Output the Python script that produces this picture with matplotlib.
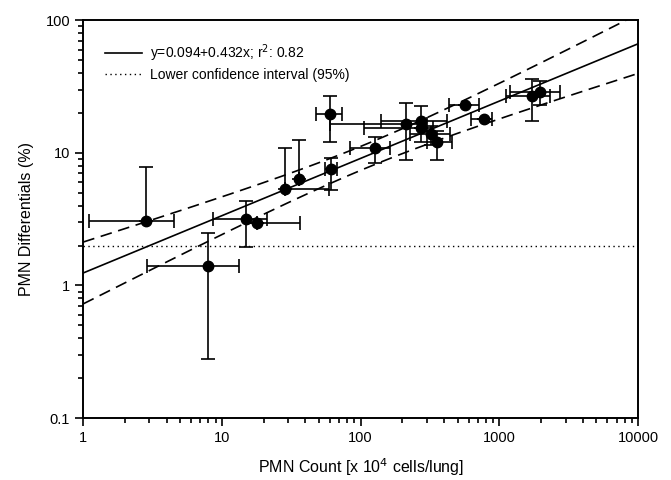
import numpy as np
import matplotlib.pyplot as plt
from matplotlib.ticker import FuncFormatter, NullFormatter, LogLocator

plt.rcParams['font.family'] = ['Liberation Sans', 'DejaVu Sans']

# PMN count [x 10^4 cells/lung] and PMN differentials (%)
pmn_count = [2.83, 8.0, 14.9, 17.9, 28.6, 35.7, 61, 59.7, 126, 212, 272, 272, 323, 355, 568, 769, 1718, 1950]
pmn_diff = [3.07, 1.40, 3.18, 2.95, 5.30, 6.3, 7.5, 19.6, 10.9, 16.5, 17.3, 15.5, 13.8, 12.1, 22.9, 17.9, 26.9, 28.8]
# error bar ends (a value equal to the point means no bar on that side)
count_lo = [1.10, 2.88, 8.56, 17.9, 28.6, 35.7, 55, 47.6, 84, 60, 141, 106, 228, 300, 432, 625, 1122, 1198]
count_hi = [4.55, 13.2, 21.3, 36.7, 59, 35.7, 68, 73.3, 163, 300, 420, 330, 443, 455, 708, 884, 2328, 2748]
diff_lo = [3.07, 0.28, 1.96, 2.95, 5.30, 6.3, 5.2, 12.0, 8.4, 8.8, 12.1, 15.5, 11.5, 8.8, 22.9, 17.9, 17.4, 22.9]
diff_hi = [7.85, 2.47, 4.35, 2.95, 10.8, 12.5, 9.1, 26.7, 13.2, 23.8, 22.5, 15.5, 16.0, 14.5, 22.9, 17.9, 35.9, 34.7]

# log-log regression and 95% confidence band
intercept = 0.094
slope = 0.432
band_min = 0.0081
band_curv = 0.011
band_center = 2.05
lower_ci = 2

x = np.array(pmn_count)
y = np.array(pmn_diff)
xerr = [x - np.array(count_lo), np.array(count_hi) - x]
yerr = [y - np.array(diff_lo), np.array(diff_hi) - y]

fig = plt.figure(figsize=(6.71, 4.80), dpi=100)
ax = fig.add_axes([0.124, 0.129, 0.827, 0.829])

lx = np.linspace(0, 4, 300)
fit = intercept + slope * lx
half = np.sqrt(band_min + band_curv * (lx - band_center) ** 2)
ax.plot(10 ** lx, 10 ** fit, color='black', lw=1.2, label='y=0.094+0.432x; r$^2$: 0.82')
ax.plot(10 ** lx, 10 ** (fit + half), color='black', lw=1.2, ls=(0, (7, 4)))
ax.plot(10 ** lx, 10 ** (fit - half), color='black', lw=1.2, ls=(0, (7, 4)))
ax.axhline(lower_ci, color='black', lw=1.0, ls=(0, (1, 2.5)), label='Lower confidence interval (95%)')

ax.errorbar(x, y, xerr=xerr, yerr=yerr, fmt='o', color='black', ms=7.5,
            ecolor='black', elinewidth=1.2, capsize=5, capthick=1.2)

ax.set_xscale('log')
ax.set_yscale('log')
ax.set_xlim(1, 10000)
ax.set_ylim(0.1, 100)
fmt = FuncFormatter(lambda v, p: f'{v:g}')
ax.xaxis.set_major_formatter(fmt)
ax.yaxis.set_major_formatter(fmt)
ax.xaxis.set_minor_formatter(NullFormatter())
ax.yaxis.set_minor_formatter(NullFormatter())
ax.xaxis.set_minor_locator(LogLocator(base=10, subs=np.arange(2, 10)))
ax.yaxis.set_minor_locator(LogLocator(base=10, subs=np.arange(2, 10)))
ax.tick_params(which='both', direction='out', top=False, right=False, labelsize=10.5, width=1.2)
ax.tick_params(which='major', length=6)
ax.tick_params(which='minor', length=3.5)
for s in ax.spines.values():
    s.set_linewidth(1.4)

ax.set_xlabel('PMN Count [x 10$^4$ cells/lung]', fontsize=11.5, labelpad=8)
ax.set_ylabel('PMN Differentials (%)', fontsize=11.5, labelpad=8)
ax.legend(loc='upper left', frameon=False, fontsize=10, handlelength=2.6,
          handletextpad=0.6, borderaxespad=1.2, labelspacing=0.3)

fig.savefig('out.png', dpi=100)
